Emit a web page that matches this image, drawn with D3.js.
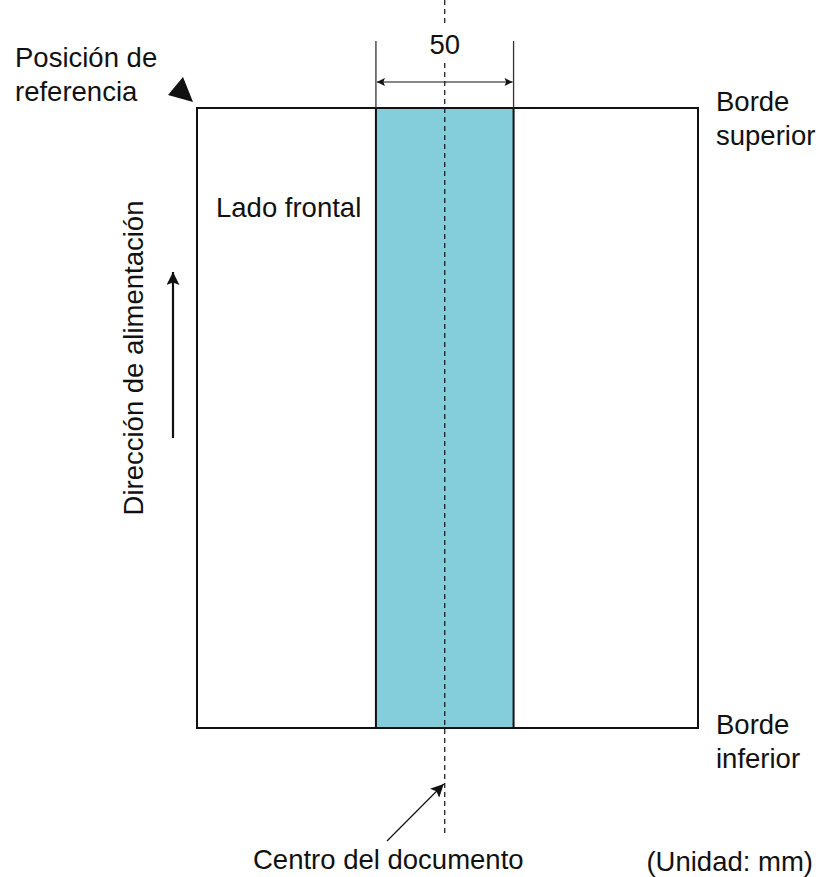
<!DOCTYPE html>
<html>
<head>
<meta charset="utf-8">
<script src="https://cdn.jsdelivr.net/npm/d3@7"></script>
<style>
	html, body { margin: 0; padding: 0; background: #fff; }
	text { font-family: "Liberation Sans", Arial, Helvetica, sans-serif; fill: #111; }
</style>
</head>
<body>
<div id="chart"></div>
<script>
// document size and band position, in mm
var docSize = [182, 225];          // width, length
var bandRange = [65, 115];         // left and right edge of the band
var centerMm = [90];               // document centre line
var bandLabel = ['50'];
var unitLabel = ['(Unidad: mm)'];
var refLabel = ['Posición de', 'referencia'];
var topLabel = ['Borde', 'superior'];
var bottomLabel = ['Borde', 'inferior'];
var sideLabel = ['Lado frontal'];
var feedLabel = ['Dirección de alimentación'];
var centerLabel = ['Centro del documento'];

var width = 816;
var height = 877;
var fontSize = 27.5;
var lineGap = 34;

var svg = d3.select('#chart')
	.append('svg')
	.attr('width', width)
	.attr('height', height);

var defs = svg.append('defs');
function marker(id, w, h){
	defs.append('marker')
		.attr('id', id)
		.attr('viewBox', '0 0 10 10')
		.attr('refX', 10)
		.attr('refY', 5)
		.attr('markerUnits', 'userSpaceOnUse')
		.attr('markerWidth', w)
		.attr('markerHeight', h)
		.attr('orient', 'auto-start-reverse')
		.append('path')
		.attr('d', 'M0,0 L10,5 L0,10 L2,5 Z')
		.attr('fill', '#111');
}
marker('head', 12, 8);
marker('bighead', 20, 13);

var x = d3.scaleLinear().domain([0, docSize[0]]).range([197, 698]);
var y = d3.scaleLinear().domain([0, docSize[1]]).range([108, 728]);

// the band
svg.append('rect')
	.attr('x', x(bandRange[0]))
	.attr('y', y(0))
	.attr('width', x(bandRange[1]) - x(bandRange[0]))
	.attr('height', y(docSize[1]) - y(0))
	.attr('fill', '#84cddb')
	.attr('stroke', '#111')
	.attr('stroke-width', 2);

// the document
svg.append('rect')
	.attr('x', x(0))
	.attr('y', y(0))
	.attr('width', x(docSize[0]) - x(0))
	.attr('height', y(docSize[1]) - y(0))
	.attr('fill', 'none')
	.attr('stroke', '#111')
	.attr('stroke-width', 2);

// centre line
var cx = x(centerMm[0]);
svg.append('line')
	.attr('x1', cx).attr('x2', cx)
	.attr('y1', 0).attr('y2', 836)
	.attr('stroke', '#111')
	.attr('stroke-width', 1.2)
	.attr('stroke-dasharray', '5,4');

// dimension lines
svg.selectAll('.ext')
	.data(bandRange)
	.enter()
	.append('line')
	.attr('class', 'ext')
	.attr('x1', function(d){ return x(d); })
	.attr('x2', function(d){ return x(d); })
	.attr('y1', 41)
	.attr('y2', y(0))
	.attr('stroke', '#333')
	.attr('stroke-width', 1.3);

svg.append('line')
	.attr('x1', x(bandRange[0]) + 1)
	.attr('x2', x(bandRange[1]) - 1)
	.attr('y1', 82).attr('y2', 82)
	.attr('stroke', '#111')
	.attr('stroke-width', 1.2)
	.attr('marker-start', 'url(#head)')
	.attr('marker-end', 'url(#head)');

svg.append('rect')
	.attr('x', cx - 18)
	.attr('y', 25)
	.attr('width', 36)
	.attr('height', 37)
	.attr('fill', '#fff');

svg.append('text')
	.attr('x', cx)
	.attr('y', 54)
	.attr('text-anchor', 'middle')
	.style('font-size', fontSize + 'px')
	.text(bandLabel[0]);

// reference position marker
svg.append('path')
	.attr('d', 'M' + (x(0) - 4) + ',' + (y(0) - 6) + ' L' + (x(0) - 29) + ',' + (y(0) - 13) + ' L' + (x(0) - 14) + ',' + (y(0) - 31) + ' Z')
	.attr('fill', '#111');

function lines(data, px, py){
	svg.append('g')
		.selectAll('text')
		.data(data)
		.enter()
		.append('text')
		.attr('x', px)
		.attr('y', function(d, i){ return py + i * lineGap; })
		.style('font-size', fontSize + 'px')
		.text(function(d){ return d; });
}

lines(refLabel, 15, 67);
lines(topLabel, 716, 111);
lines(bottomLabel, 716, 734);
lines(sideLabel, 216, 217);
lines(centerLabel, 253, 869);

// unit note, kept inside the right edge
svg.append('text')
	.attr('x', width - 3)
	.attr('y', 871)
	.attr('text-anchor', 'end')
	.style('font-size', fontSize + 'px')
	.text(unitLabel[0]);

// feed direction
svg.append('text')
	.attr('transform', 'translate(143,358) rotate(-90)')
	.attr('text-anchor', 'middle')
	.style('font-size', fontSize + 'px')
	.text(feedLabel[0]);

svg.append('line')
	.attr('x1', 173).attr('x2', 173)
	.attr('y1', 438).attr('y2', 272)
	.attr('stroke', '#111')
	.attr('stroke-width', 2.2)
	.attr('marker-end', 'url(#bighead)');

// pointer to the centre line
svg.append('line')
	.attr('x1', 387).attr('y1', 841)
	.attr('x2', cx - 1).attr('y2', 784)
	.attr('stroke', '#111')
	.attr('stroke-width', 1.2)
	.attr('marker-end', 'url(#bighead)');
</script>
</body>
</html>
